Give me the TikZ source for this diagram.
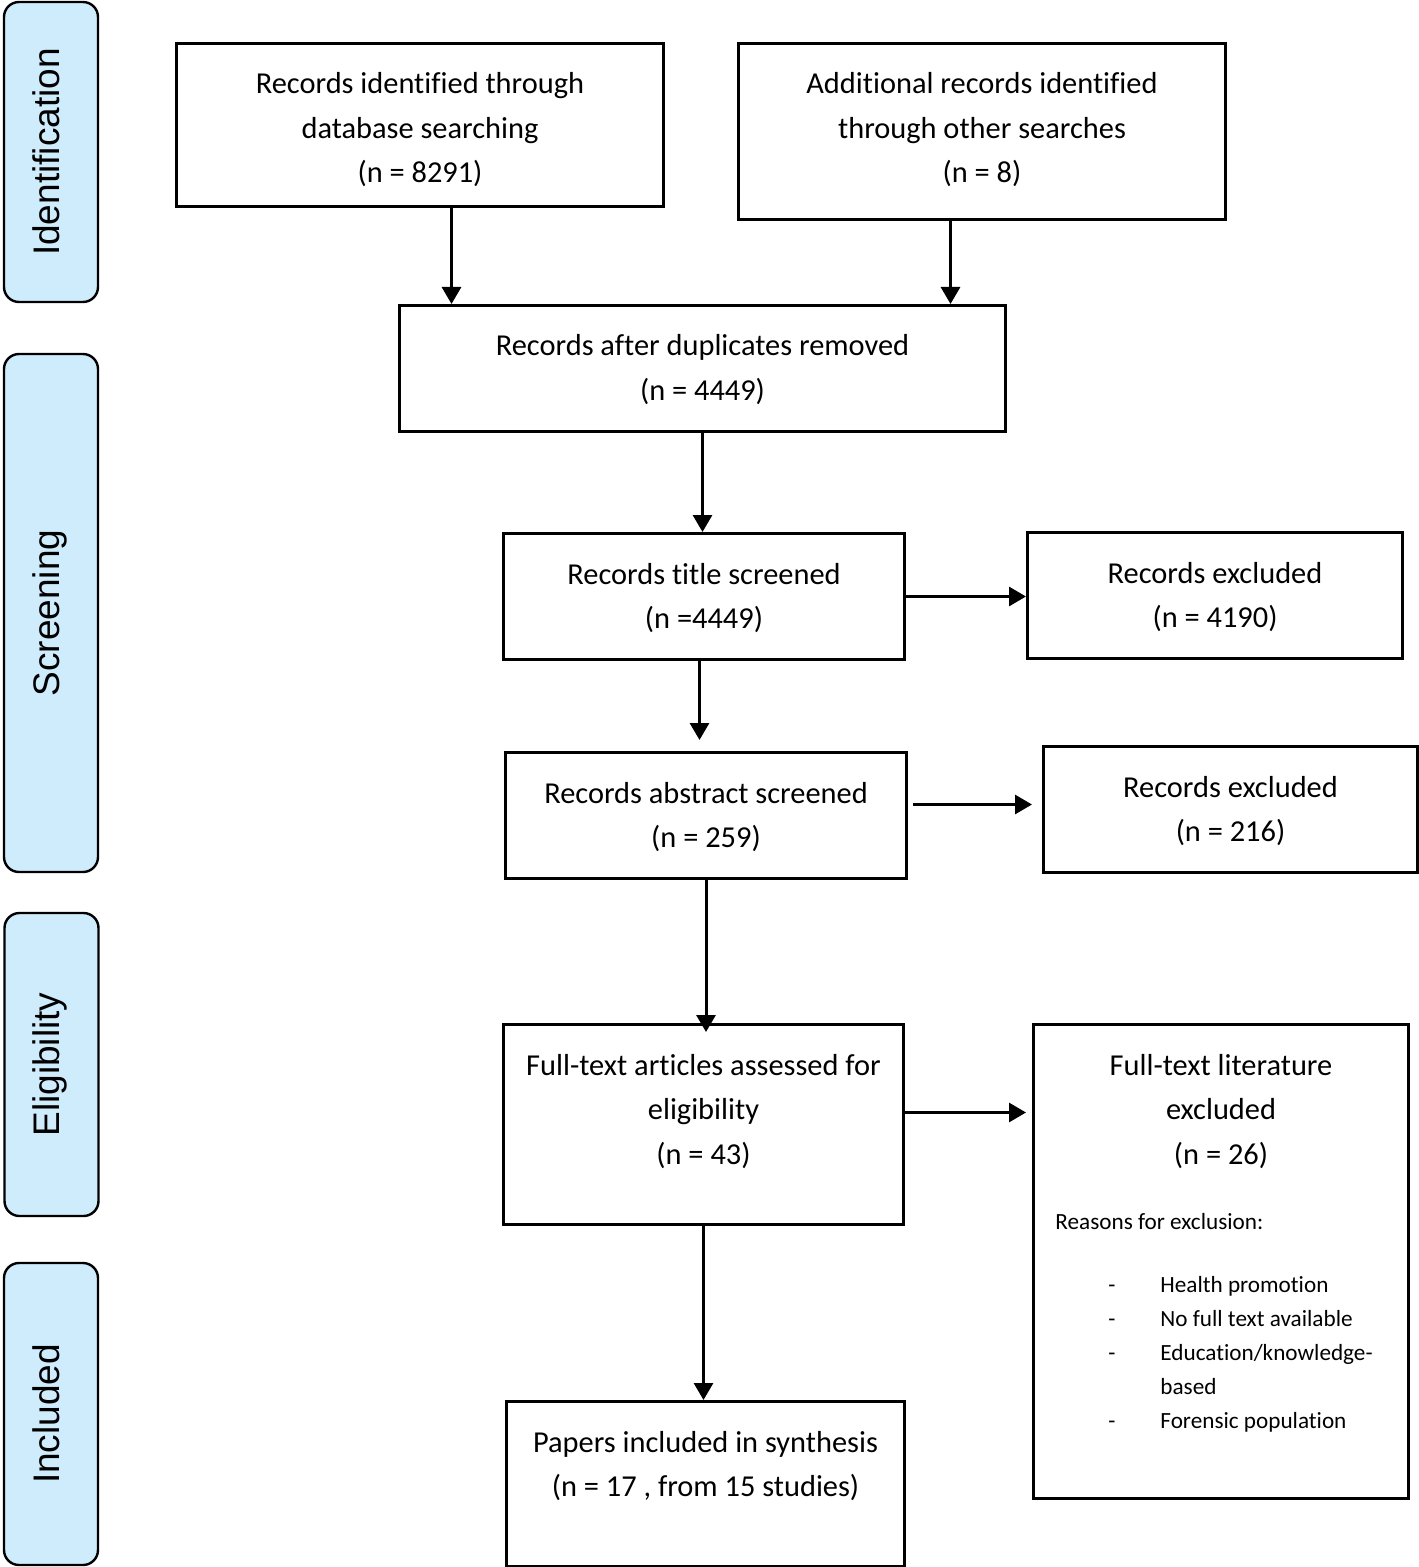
\documentclass[tikz,border=0pt]{standalone}
\usepackage{fontspec}
\setmainfont{Carlito}[Ligatures=CommonOff]
\newfontfamily\stagefont{Liberation Sans}
\usetikzlibrary{arrows.meta}
\definecolor{stageblue}{RGB}{207,236,253}

\tikzset{
  box/.style 2 args={draw, line width=1.5pt, align=flush center, inner sep=0pt,
    text width=#1, text height=25.25pt, text depth=#2,
    font=\fontsize{15.2}{22.25}\selectfont},
  stage/.style={draw, line width=1.2pt, fill=stageblue, rounded corners=7.5pt,
    rotate=90, inner sep=0pt, minimum height=47pt, text height=14pt, text depth=6pt,
    font=\stagefont\fontsize{18.5}{20}\selectfont},
  link/.style={->, line width=1.5pt}
}

\begin{document}
\begin{tikzpicture}[x=0.5pt, y=-0.5pt, >={Triangle[length=8.5pt,width=9.5pt]}]
    \useasboundingbox (0,0) rectangle (1418,1567);

    \node[stage, minimum width=150pt] (ident) at (51,152) {Identification};
    \node[stage, minimum width=259pt] (screen) at (51,613) {Screening};
    \node[stage, minimum width=151.5pt] (elig) at (51.5,1064.5) {Eligibility};
    \node[stage, minimum width=151pt] (incl) at (51,1414) {Included};

    \node[box={243.5pt}{56.25pt}, anchor=north west] (database) at (175,42) {Records identified through\\database searching\\(n = 8291)};
    \node[box={243.5pt}{62.75pt}, anchor=north west] (others) at (737,42) {Additional records identified\\through other searches\\(n = 8)};
    \node[box={303pt}{37.75pt}, anchor=north west] (dedup) at (398,304) {Records after duplicates removed\\(n = 4449)};
    \node[box={200.5pt}{37.75pt}, anchor=north west] (title) at (502,532) {Records title screened\\(n =4449)};
    \node[box={187.5pt}{37.75pt}, anchor=north west] (titleex) at (1026,531) {Records excluded\\(n = 4190)};
    \node[box={200.5pt}{37.75pt}, anchor=north west] (abstract) at (504,751) {Records abstract screened\\(n = 259)};
    \node[box={187pt}{37.75pt}, anchor=north west] (abstractex) at (1042,745) {Records excluded\\(n = 216)};
    \node[box={200pt}{74.75pt}, anchor=north west] (fulltext) at (502,1023) {Full-text articles assessed for\\eligibility\\(n = 43)};
    \node[box={187.5pt}{211.75pt}, anchor=north west] (fulltextex) at (1032,1023) {Full-text literature\\excluded\\(n = 26)};
    \node[box={199pt}{57.25pt}, anchor=north west] (included) at (505,1400) {Papers included in synthesis\\(n = 17 , from 15 studies)};

    \node[anchor=base west, inner sep=0pt, font=\fontsize{11.6}{17}\selectfont] (reasons)
        at ([xshift=11.5pt, yshift=-103pt]fulltextex.north west) {%
        \begin{tabular}[t]{@{\hspace{26.5pt}}p{26pt}@{}l@{}}
        \multicolumn{2}{@{}l@{}}{Reasons for exclusion:}\\[14.5pt]
        - & Health promotion\\
        - & No full text available\\
        - & Education/knowledge-\\
          & based\\
        - & Forensic population
        \end{tabular}};

    \draw[link] ([xshift=15.75pt]database.south) -- ([xshift=15.75pt]database.south |- dedup.north);
    \draw[link] ([xshift=-15.75pt]others.south) -- ([xshift=-15.75pt]others.south |- dedup.north);
    \draw[link] (dedup.south) -- (dedup.south |- title.north);
    \draw[link] (title.east) -- (title.east -| titleex.west);
    \draw[link, shorten >=5.5pt] ([xshift=-2.25pt]title.south) -- ([xshift=-2.25pt]title.south |- abstract.north);
    \draw[link, shorten <=2.5pt, shorten >=5pt] ([yshift=5.5pt]abstract.east) -- ([yshift=5.5pt]abstract.east -| abstractex.west);
    \draw[link, shorten >=-4.5pt] (abstract.south) -- (abstract.south |- fulltext.north);
    \draw[link, shorten >=3pt] ([yshift=6pt]fulltext.east) -- ([yshift=6pt]fulltext.east -| fulltextex.west);
    \draw[link] (fulltext.south) -- (fulltext.south |- included.north);
\end{tikzpicture}
\end{document}
